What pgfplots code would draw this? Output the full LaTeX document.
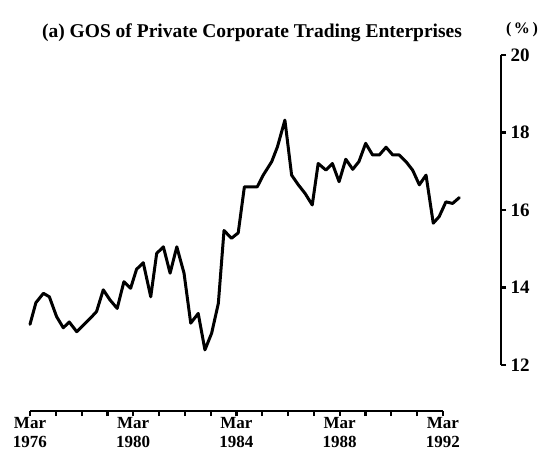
\documentclass[border=0pt]{standalone}
\usepackage{fontspec}
\setmainfont{Liberation Serif}
\usepackage{pgfplots}
\pgfplotsset{compat=1.18}

\begin{document}
\begin{tikzpicture}[x=1pt,y=1pt]
\useasboundingbox (0,0) rectangle (545,461);

% data and right-hand scale
\begin{axis}[
  at={(30pt,96pt)}, anchor=south west,
  scale only axis,
  width=471pt, height=310pt,
  xmin=1976, xmax=1994.256,
  ymin=12, ymax=20,
  axis x line=none,
  axis y line*=right,
  ytick={12,14,16,18,20},
  tick align=outside,
  major tick length=5pt,
  y axis line style={line width=2.4pt},
  ytick style={line width=2.2pt, black},
  yticklabel style={font=\fontsize{19}{19}\selectfont\bfseries, xshift=1pt},
  /pgf/number format/assume math mode=true,
  clip=false,
]
\addplot[black, line width=3pt, line join=round, line cap=round] coordinates {
  (1976.00,13.05) (1976.23,13.61) (1976.52,13.85) (1976.75,13.76)
  (1977.03,13.25) (1977.29,12.96) (1977.52,13.11) (1977.81,12.86)
  (1978.07,13.03) (1978.33,13.20) (1978.58,13.38) (1978.84,13.94)
  (1979.10,13.68) (1979.38,13.46) (1979.64,14.15) (1979.90,13.98)
  (1980.13,14.47) (1980.39,14.64) (1980.68,13.76) (1980.91,14.88)
  (1981.17,15.05) (1981.43,14.37) (1981.69,15.05) (1981.97,14.37)
  (1982.23,13.08) (1982.52,13.33) (1982.78,12.39) (1983.04,12.82)
  (1983.30,13.59) (1983.52,15.47) (1983.81,15.27) (1984.07,15.41)
  (1984.31,16.60) (1984.55,16.60) (1984.81,16.60) (1985.04,16.90)
  (1985.37,17.25) (1985.59,17.63) (1985.88,18.32) (1986.14,16.90)
  (1986.40,16.65) (1986.66,16.43) (1986.94,16.13) (1987.17,17.20)
  (1987.47,17.03) (1987.72,17.20) (1987.98,16.73) (1988.24,17.31)
  (1988.51,17.05) (1988.75,17.25) (1989.01,17.72) (1989.28,17.42)
  (1989.54,17.42) (1989.80,17.62) (1990.06,17.42) (1990.31,17.42)
  (1990.57,17.25) (1990.83,17.03) (1991.09,16.65) (1991.35,16.90)
  (1991.63,15.66) (1991.86,15.83) (1992.12,16.21) (1992.38,16.17)
  (1992.64,16.32)
};
\end{axis}

% time axis
\begin{axis}[
  at={(30pt,50pt)}, anchor=south west,
  scale only axis,
  width=413pt, height=10pt,
  xmin=1976, xmax=1992,
  ymin=0, ymax=1,
  axis y line=none,
  axis x line*=bottom,
  xtick={1976,...,1992},
  xticklabels={Mar\\1976,,,,Mar\\1980,,,,Mar\\1984,,,,Mar\\1988,,,,Mar\\1992},
  xticklabel style={align=center, font=\fontsize{17}{19}\selectfont\bfseries, yshift=2pt},
  tick align=outside,
  major tick length=5pt,
  x axis line style={line width=2.4pt},
  xtick style={line width=2.2pt, black},
]
\end{axis}

\node[font=\fontsize{19.5}{19.5}\selectfont\bfseries] at (252,428) {(a) GOS of Private Corporate Trading Enterprises};
\node[font=\fontsize{16}{16}\selectfont\bfseries] at (522,431) {(\,\%\,)};
\end{tikzpicture}
\end{document}
